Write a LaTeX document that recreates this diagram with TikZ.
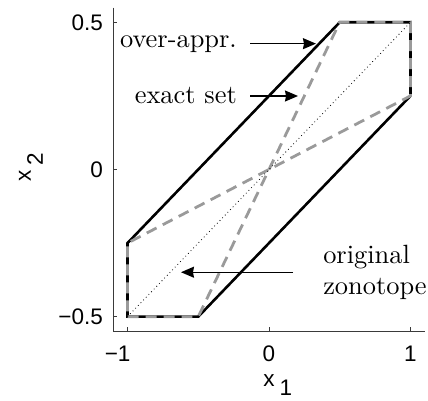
\documentclass[tikz,border=0pt]{standalone}
\usepackage{fontspec}
\setsansfont{Liberation Sans}
\newfontfamily\notefont{lmroman10-regular.otf}
\usetikzlibrary{arrows.meta}
\definecolor{setgray}{HTML}{9A9A9A}
\definecolor{axisgray}{HTML}{3A3A3A}

\begin{document}
\begin{tikzpicture}[x=141.5pt, y=294.4pt, every node/.style={inner sep=0pt},
  ticklab/.style={font=\sffamily\fontsize{22.5}{24}\selectfont},
  note/.style={font=\notefont\fontsize{26.4}{31}\selectfont},
  axisline/.style={axisgray, line width=0.9pt},
  pointer/.style={-{Stealth[length=13pt,width=11pt,inset=1pt]}, line width=1.3pt}]
\useasboundingbox (-1.9011,-0.7863) rectangle (1.1237,0.5757);
\draw[axisline] (-1.1,0.55) -- (-1.1,-0.55) -- (1.1,-0.55);
\foreach \v in {-0.5,0,0.5} \draw[axisline] (-1.1,\v) -- ++(4pt,0);
\foreach \v in {-1,0,1} \draw[axisline] (\v,-0.55) -- ++(0,4pt);
\node[ticklab, anchor=east] (ytop) at (-1.173,0.5) {0.5};
\node[ticklab, anchor=east] (ymid) at (-1.173,0) {0};
\node[ticklab, anchor=east] (ybot) at (-1.173,-0.5) {−0.5};
\node[ticklab] (xleft) at (-1.07,-0.625) {−1};
\node[ticklab] (xmid) at (0,-0.625) {0};
\node[ticklab] (xright) at (1,-0.625) {1};
\node[ticklab, anchor=base west] (xname) at (-0.042,-0.738) {x\hspace{5pt}\raisebox{-9pt}{1}};
\node[ticklab, anchor=base west, rotate=90] (yname) at (-1.682,-0.0425) {x\hspace{5pt}\raisebox{-12pt}{2}};
\draw[black, line width=2.6pt] (-1,-0.5) -- (-0.5,-0.5) -- (1,0.25) -- (1,0.5) -- (0.5,0.5) -- (-1,-0.25) -- cycle;
\draw[setgray, line width=2.8pt, dash pattern=on 11pt off 7pt] (-1,-0.5) -- (-0.5,-0.5) -- (0.5,0.5) -- (1,0.5) -- (1,0.25) -- (-1,-0.25) -- cycle;
\draw[black, line width=0.8pt, dash pattern=on 0.8pt off 3pt] (-1,-0.5) -- (1,0.5);
\node[note, anchor=base east, inner xsep=13pt] (overtxt) at (-0.134,0.416) {over-appr.};
\coordinate (overtip) at (0.332,0.433);
\draw[pointer] (overtxt.east) -- (overtxt.east -| overtip);
\node[note, anchor=base east, inner xsep=13pt] (exacttxt) at (-0.134,0.2225) {exact set};
\coordinate (exacttip) at (0.205,0);
\draw[pointer] (exacttxt.east) -- (exacttxt.east -| exacttip);
\node[note, anchor=west, align=left, inner xsep=30pt] (origtxt) at (0.170,-0.349) {original\\zonotope};
\coordinate (origtip) at (-0.622,0);
\draw[pointer] (origtxt.west) -- (origtxt.west -| origtip);
\end{tikzpicture}
\end{document}
